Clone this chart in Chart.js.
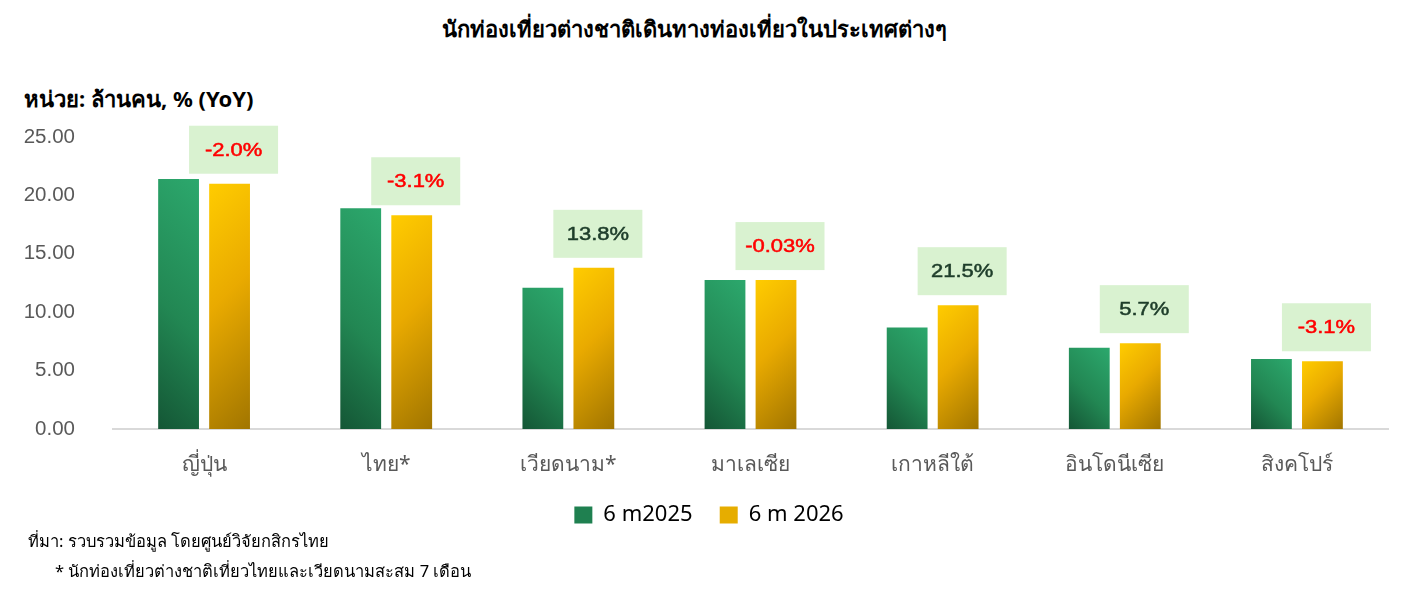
<!DOCTYPE html>
<html>
<head>
<meta charset="utf-8">
<script src="https://cdn.jsdelivr.net/npm/chart.js@4.4.1/dist/chart.umd.min.js"></script>
<style>
  body { margin: 0; background: #fff; width: 1406px; height: 601px; overflow: hidden; position: relative; font-family: "Noto Sans", Arial, sans-serif; }
  #wrap { position: absolute; left: 0; top: 0; width: 1406px; height: 540px; }
  .title { position: absolute; top: 13px; left: 0; width: 1388px; text-align: center; font-weight: bold; font-size: 22px; line-height: 30px; color: #000; }
  .unit { position: absolute; top: 83px; left: 24px; font-weight: bold; font-size: 22px; line-height: 30px; color: #000; }
  .note { position: absolute; font-size: 16.5px; line-height: 22px; color: #000; }
</style>
</head>
<body>
<div class="title">นักท่องเที่ยวต่างชาติเดินทางท่องเที่ยวในประเทศต่างๆ</div>
<div class="unit">หน่วย: ล้านคน, % (YoY)</div>
<div id="wrap"><canvas id="tourChart"></canvas></div>
<div class="note" style="left:28px; top:530px;">ที่มา: รวบรวมข้อมูล โดยศูนย์วิจัยกสิกรไทย</div>
<div class="note" style="left:55px; top:560px;">* นักท่องเที่ยวต่างชาติเที่ยวไทยและเวียดนามสะสม 7 เดือน</div>

<script>
var countries = ['ญี่ปุ่น', 'ไทย*', 'เวียดนาม*', 'มาเลเซีย', 'เกาหลีใต้', 'อินโดนีเซีย', 'สิงคโปร์'];
var tourists2025 = [21.4, 18.9, 12.1, 12.75, 8.7, 6.95, 6.0];
var tourists2026 = [21.0, 18.3, 13.8, 12.75, 10.6, 7.35, 5.8];
var yoyLabels = ['-2.0%', '-3.1%', '13.8%', '-0.03%', '21.5%', '5.7%', '-3.1%'];
var seriesNames = ['6 m2025', '6 m 2026'];

var catPct = 0.56;
var barPct = 0.8;

// 45 degree gradient per bar, worked out from the scales
function barFill(ctx, stops, fromTop) {
    var chart = ctx.chart;
    var xs = chart.scales.x, ys = chart.scales.y;
    if (!xs || !ys || ctx.dataIndex === undefined || !chart.chartArea) return stops[1];
    var slot = xs.width / countries.length * catPct / 2;
    var cx = xs.getPixelForValue(ctx.dataIndex) + (ctx.datasetIndex - 0.5) * slot;
    var half = slot * barPct / 2;
    var top = ys.getPixelForValue(ctx.raw);
    var bottom = ys.getPixelForValue(0);
    var len = (2 * half + (bottom - top)) / 2;
    var g;
    if (fromTop) {
        g = chart.ctx.createLinearGradient(cx - half, top, cx - half + len, top + len);
    } else {
        g = chart.ctx.createLinearGradient(cx - half, bottom, cx - half + len, bottom - len);
    }
    g.addColorStop(0, stops[0]);
    g.addColorStop(0.45, stops[1]);
    g.addColorStop(1, stops[2]);
    return g;
}

var yoyBoxes = {
    id: 'yoyBoxes',
    afterLayout: function (chart) {
        // nudge the legend a little to the right, like the original
        if (chart.legend) chart.legend.left += 30;
    },
    afterDatasetsDraw: function (chart) {
        var meta = chart.getDatasetMeta(1);
        var c = chart.ctx;
        meta.data.forEach(function (bar, i) {
            var w = 89, h = 48;
            var cx = bar.x + 4;
            var bottom = bar.y - 10;
            c.save();
            c.fillStyle = '#d9f2d0';
            c.fillRect(cx - w / 2, bottom - h, w, h);
            c.fillStyle = yoyLabels[i].charAt(0) === '-' ? '#ff0000' : '#1e3d2a';
            c.textAlign = 'center';
            c.textBaseline = 'middle';
            c.translate(cx, bottom - h / 2 + 1);
            c.scale(1.22, 1);
            c.font = '18px "Liberation Sans", Arial, sans-serif';
            c.lineWidth = 0.5;
            c.strokeStyle = c.fillStyle;
            c.fillText(yoyLabels[i], 0, 0);
            c.strokeText(yoyLabels[i], 0, 0);
            c.restore();
        });
    }
};

var ctxTour = document.getElementById('tourChart').getContext('2d');
var tourChart = new Chart(ctxTour, {
    type: 'bar',
    data: {
        labels: countries,
        datasets: [{
            label: seriesNames[0],
            data: tourists2025,
            backgroundColor: function (ctx) { return barFill(ctx, ['#145635', '#228753', '#2ca86d'], false); },
            borderWidth: 0,
            categoryPercentage: catPct,
            barPercentage: barPct
        }, {
            label: seriesNames[1],
            data: tourists2026,
            backgroundColor: function (ctx) { return barFill(ctx, ['#ffcc00', '#e9aa00', '#a17500'], true); },
            borderWidth: 0,
            categoryPercentage: catPct,
            barPercentage: barPct
        }]
    },
    options: {
        responsive: true,
        maintainAspectRatio: false,
        animation: false,
        layout: { padding: { top: 137, right: 18, left: 0, bottom: 4 } },
        plugins: {
            title: { display: false },
            tooltip: { enabled: false },
            legend: {
                position: 'bottom',
                labels: {
                    boxWidth: 18,
                    boxHeight: 17,
                    padding: 10,
                    color: '#404040',
                    font: { size: 22, family: '"Noto Sans", Arial, sans-serif' },
                    generateLabels: function () {
                        // trailing spaces widen the gap between the two entries
                        return [
                            { text: seriesNames[0] + '   ', fillStyle: '#1f8050', strokeStyle: '#1f8050', lineWidth: 0, datasetIndex: 0 },
                            { text: seriesNames[1], fillStyle: '#e6ad00', strokeStyle: '#e6ad00', lineWidth: 0, datasetIndex: 1 }
                        ];
                    }
                }
            }
        },
        scales: {
            x: {
                grid: { display: false },
                border: { display: true, color: '#d9d9d9', width: 2 },
                ticks: { color: '#595959', padding: 15, font: { size: 21, family: '"Noto Sans", Arial, sans-serif' } },
                afterFit: function (s) { s.height = 65; }
            },
            y: {
                min: 0,
                max: 25,
                grid: { display: false },
                border: { display: false },
                ticks: {
                    stepSize: 5,
                    color: '#595959',
                    padding: 30,
                    font: { size: 20.5, family: '"Liberation Sans", Arial, sans-serif' },
                    callback: function (v) { return v.toFixed(2); }
                },
                afterFit: function (s) { s.width = 113; }
            }
        }
    },
    plugins: [yoyBoxes]
});
</script>
</body>
</html>
